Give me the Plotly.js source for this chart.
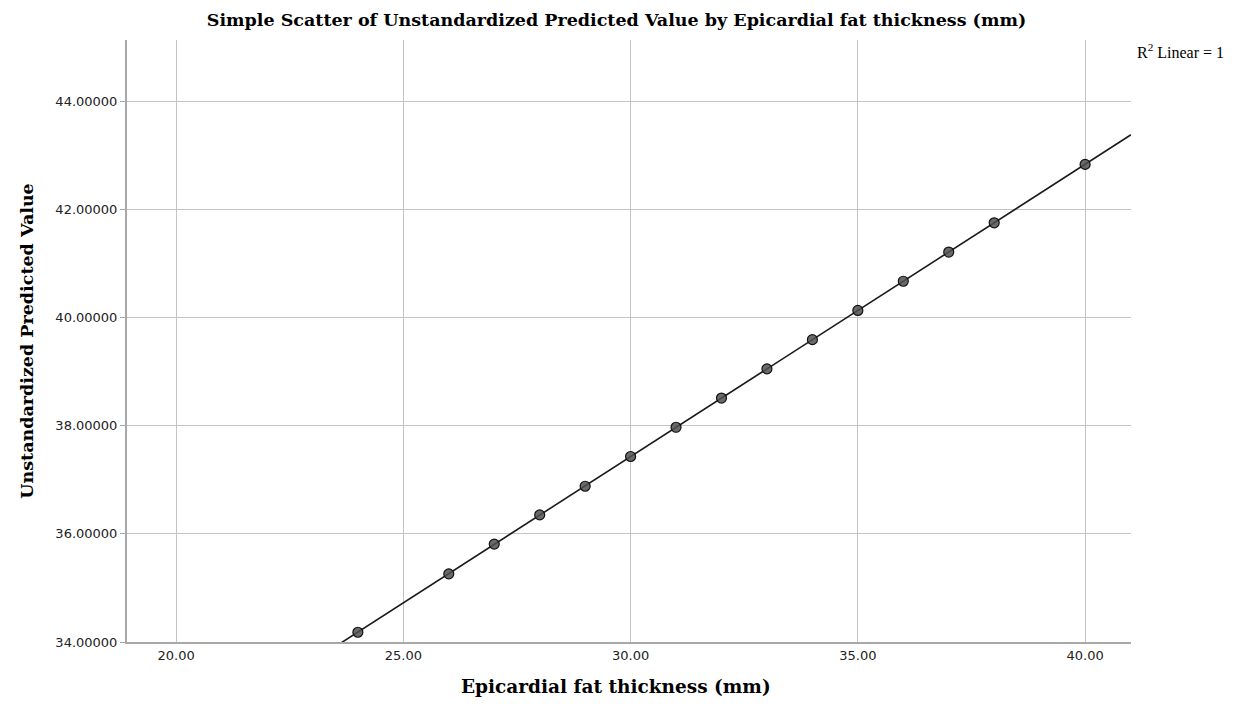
<!DOCTYPE html>
<html>
<head>
<meta charset="utf-8">
<script src="https://cdn.plot.ly/plotly-3.0.1.min.js"></script>
<style>html,body{margin:0;padding:0;background:#fff;}#chart{width:1233px;height:711px;}</style>
</head>
<body>
<div id="chart"></div>
<script>
const fatThickness = [24, 26, 27, 28, 29, 30, 31, 32, 33, 34, 35, 36, 37, 38, 40];
const predictedValue = [34.18, 35.26, 35.81, 36.35, 36.88, 37.43, 37.97, 38.51, 39.05, 39.59, 40.13, 40.67, 41.21, 41.75, 42.83];
const xTickVals = [20, 25, 30, 35, 40];
const yTickVals = [34, 36, 38, 40, 42, 44];
const xRange = [18.92, 41.01];
const yRange = [34, 45.13];

// least-squares fit line
const n = fatThickness.length;
const mx = fatThickness.reduce((a, b) => a + b, 0) / n;
const my = predictedValue.reduce((a, b) => a + b, 0) / n;
let sxy = 0, sxx = 0;
for (let i = 0; i < n; i++) { sxy += (fatThickness[i] - mx) * (predictedValue[i] - my); sxx += (fatThickness[i] - mx) ** 2; }
const slope = sxy / sxx, icpt = my - slope * mx;
const fitX = [xRange[0], xRange[1]];
const fitY = fitX.map(x => icpt + slope * x);

const serif = '"DejaVu Serif", "Liberation Serif", serif';
const sans = '"DejaVu Sans", "Liberation Sans", sans-serif';

const traces = [
  { x: fitX, y: fitY, mode: 'lines', line: { color: '#1a1a1a', width: 1.6 }, hoverinfo: 'skip' },
  { x: fatThickness, y: predictedValue, mode: 'markers',
    marker: { size: 10, color: 'rgba(80,80,80,0.85)', line: { color: '#111', width: 1.2 } } }
];

const layout = {
  width: 1233, height: 711,
  margin: { l: 127, r: 102, t: 40, b: 69 },
  paper_bgcolor: '#fff', plot_bgcolor: '#fff',
  showlegend: false,
  title: { text: '<b>Simple Scatter of Unstandardized Predicted Value by Epicardial fat thickness (mm)</b>',
    font: { family: serif, size: 17.5, color: '#000' }, x: 0.5, xanchor: 'center', y: 0.972, yanchor: 'middle' },
  xaxis: {
    range: xRange, tickvals: xTickVals, ticktext: xTickVals.map(v => v.toFixed(2)),
    showgrid: true, gridcolor: '#c4c4c4', gridwidth: 1,
    showline: true, linecolor: '#a8a8a8', linewidth: 2, zeroline: false,
    ticks: '', ticklen: 0,
    tickfont: { family: sans, size: 13, color: '#222' },
    title: { text: '' }
  },
  yaxis: {
    range: yRange, tickvals: yTickVals, ticktext: yTickVals.map(v => v.toFixed(5)),
    showgrid: true, gridcolor: '#c4c4c4', gridwidth: 1,
    showline: true, linecolor: '#a8a8a8', linewidth: 2, zeroline: false,
    ticks: 'outside', ticklen: 5, tickcolor: '#a8a8a8',
    tickfont: { family: sans, size: 13, color: '#222' },
    title: { text: '<b>Unstandardized Predicted Value</b>', font: { family: serif, size: 17.5, color: '#000' }, standoff: 17 }
  },
  annotations: [
    { text: '<b>Epicardial fat thickness (mm)</b>', xref: 'paper', yref: 'paper', x: 0.4875, y: -0.074,
      xanchor: 'center', yanchor: 'middle', showarrow: false, font: { family: serif, size: 18.5, color: '#000' } },
    { text: 'R<sup>2</sup> Linear = 1', xref: 'paper', yref: 'paper', x: 1.0495, y: 0.982, xanchor: 'center', yanchor: 'middle',
      showarrow: false, font: { family: '"Liberation Serif", serif', size: 16, color: '#000' } }
  ]
};

Plotly.newPlot('chart', traces, layout, { displayModeBar: false, staticPlot: true });
</script>
</body>
</html>
